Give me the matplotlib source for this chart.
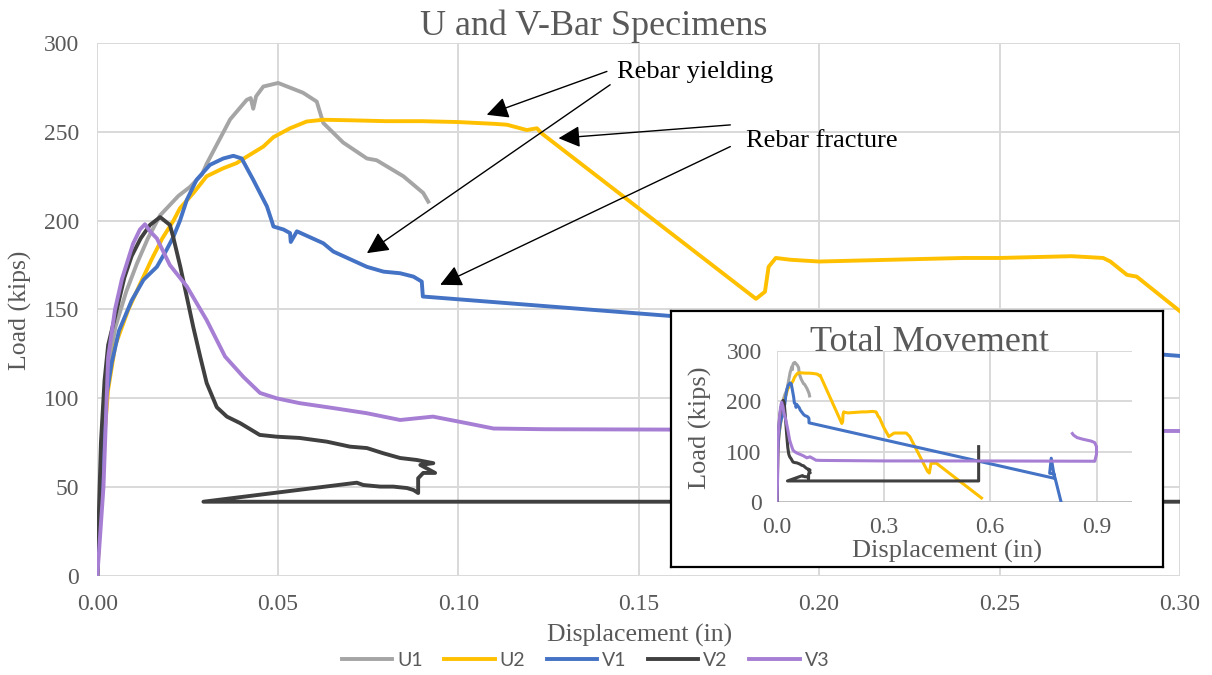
import matplotlib.pyplot as plt

# Series (displacement in inches, load in kips)
u1_x = [0, 0.001, 0.002, 0.003, 0.005, 0.008, 0.011, 0.014, 0.0174, 0.0225, 0.0257, 0.029, 0.0303,
        0.0368, 0.0414, 0.0425, 0.0432, 0.044, 0.046, 0.0501, 0.057, 0.0608, 0.0626, 0.0681,
        0.0747, 0.0774, 0.0848, 0.0903, 0.0917]
u1_y = [0, 55, 95, 118, 140, 160, 176, 190, 203, 214, 219, 226, 232,
        257, 268, 269, 263, 270, 275.5, 277.5, 272, 267, 255, 244,
        235, 234, 225, 215.6, 210.7]

u2_x = [0, 0.001, 0.002, 0.003, 0.005, 0.0086, 0.012, 0.015, 0.018, 0.0211, 0.0229, 0.0266, 0.0303,
        0.0349, 0.0386, 0.0414, 0.046, 0.0488, 0.0534, 0.058, 0.0626, 0.07, 0.08, 0.09, 0.10,
        0.11, 0.1135, 0.119, 0.1218, 0.1232, 0.1825, 0.185, 0.186, 0.188, 0.192, 0.20, 0.21,
        0.22, 0.23, 0.24, 0.25, 0.26, 0.27, 0.2787, 0.2807, 0.2853, 0.288, 0.30, 0.315, 0.33,
        0.364, 0.374, 0.424, 0.429, 0.434, 0.449, 0.576]
u2_y = [0, 45, 80, 105, 130, 150, 165, 178, 190, 200, 207, 215.5, 225,
        229.5, 232.4, 236, 241.7, 247, 252, 255.8, 256.8, 256.5, 256, 256, 255.5,
        254.5, 254, 251, 252, 249, 156, 160, 174, 179, 178, 177, 177.5,
        178, 178.5, 179, 179, 179.5, 180, 179, 177, 169.5, 168.5, 149, 130, 137,
        137, 130, 61, 57.5, 77, 77, 8]

v1_x = [0, 0.0005, 0.0012, 0.0024, 0.004, 0.006, 0.0095, 0.0128, 0.0165, 0.0192, 0.0211, 0.0229,
        0.0248, 0.0275, 0.0312, 0.0349, 0.0377, 0.040, 0.0432, 0.047, 0.0483, 0.0488, 0.0516,
        0.0534, 0.0536, 0.0553, 0.0626, 0.0654, 0.0747, 0.0793, 0.0839, 0.0876, 0.0899, 0.0902,
        0.782, 0.7725, 0.768, 0.78, 0.786, 0.80]
v1_y = [0, 30, 50, 100, 120, 138, 155, 166.7, 174, 183.6, 191, 200,
        211.7, 223, 231.4, 235, 236.5, 235, 223, 208, 200, 196.7, 195,
        193, 188, 194, 187.3, 182.6, 174, 171.3, 170.4, 168.5, 165.7, 157.3,
        47, 87, 57, 56, 40, 0.5]

v2_x = [0, 0.0005, 0.001, 0.002, 0.003, 0.0054, 0.0075, 0.0095, 0.012, 0.0146, 0.0174, 0.0201,
        0.021, 0.023, 0.0248, 0.0266, 0.0285, 0.0303, 0.0331, 0.0359, 0.0396, 0.045, 0.0497,
        0.056, 0.0636, 0.070, 0.0747, 0.0792, 0.0839, 0.0885, 0.0931, 0.0895, 0.0936, 0.0903,
        0.0889, 0.0889, 0.0876, 0.0858, 0.082, 0.0784, 0.0737, 0.0719, 0.0294, 0.568, 0.568]
v2_y = [0, 40, 75, 110, 130, 150, 168, 180, 190, 197.6, 202, 197.6,
        191, 174, 157, 140, 123.5, 108.6, 95, 89.7, 86, 79.4, 78.4,
        77.7, 75.6, 72.8, 72, 69.1, 66.4, 65.3, 63.5, 62.5, 58, 58,
        55, 46.7, 48.4, 49.5, 50.3, 50.3, 51.2, 52.5, 41.8, 41.8, 110]

v3_x = [0, 0.0017, 0.003, 0.0049, 0.0068, 0.0099, 0.0118, 0.0132, 0.0146, 0.0165, 0.0201, 0.0248,
        0.0303, 0.0354, 0.0405, 0.0451, 0.0497, 0.056, 0.0654, 0.0747, 0.0839, 0.093, 0.1024,
        0.1098, 0.124, 0.30, 0.60, 0.895, 0.90, 0.90, 0.895, 0.885, 0.86, 0.845, 0.835, 0.832]
v3_y = [0, 50, 123, 150, 167, 187, 195, 198, 194, 190, 175, 163,
        144, 123.5, 112, 103, 100, 97.3, 94.5, 91.6, 87.8, 89.7, 86,
        83, 82.6, 81.6, 81.5, 81, 95, 110, 118, 121, 125, 128, 133, 136]

names = ["U1", "U2", "V1", "V2", "V3"]
colors = ["#a5a5a5", "#ffc000", "#4472c4", "#404040", "#a67ed4"]
xs = [u1_x, u2_x, v1_x, v2_x, v3_x]
ys = [u1_y, u2_y, v1_y, v2_y, v3_y]

serif = "Liberation Serif"
grey_txt = "#595959"
grid_c = "#d9d9d9"

fig = plt.figure(figsize=(12.12, 6.75), dpi=100)

# Main chart
ax = fig.add_axes([0.0803, 0.1467, 0.8933, 0.7896])
for x, y, c, n in zip(xs, ys, colors, names):
    ax.plot(x, y, color=c, lw=2.8, label=n, solid_joinstyle="round")
ax.set_xlim(0, 0.30)
ax.set_ylim(0, 300)
ax.set_xticks([0, 0.05, 0.10, 0.15, 0.20, 0.25, 0.30])
ax.set_xticklabels(["0.00", "0.05", "0.10", "0.15", "0.20", "0.25", "0.30"])
ax.set_yticks([0, 50, 100, 150, 200, 250, 300])
ax.grid(True, color=grid_c, lw=1.4)
ax.set_axisbelow(True)
for s in ax.spines.values():
    s.set_visible(False)
ax.tick_params(length=0, labelsize=17, labelcolor=grey_txt, pad=13)
for lab in ax.get_xticklabels() + ax.get_yticklabels():
    lab.set_fontfamily(serif)

fig.text(0.49, 0.961, "U and V-Bar Specimens", ha="center", va="center",
         fontsize=26, color=grey_txt, family=serif)
fig.text(0.528, 0.058, "Displacement (in)", ha="center", va="center",
         fontsize=18.5, color=grey_txt, family=serif)
fig.text(0.0165, 0.541, "Load (kips)", ha="center", va="center", rotation=90,
         fontsize=18.5, color=grey_txt, family=serif)

# Annotations
arrow = dict(arrowstyle="-|>,head_length=0.6,head_width=0.3", color="black",
             lw=1, mutation_scale=22, shrinkA=0, shrinkB=0)
ax.annotate("", xy=(0.1079, 259.6), xytext=(0.1412, 284), arrowprops=arrow)
ax.annotate("", xy=(0.0747, 181.7), xytext=(0.1421, 276.5), arrowprops=arrow)
ax.annotate("", xy=(0.1278, 246.4), xytext=(0.1754, 253.9), arrowprops=arrow)
ax.annotate("", xy=(0.095, 163.9), xytext=(0.1754, 241.7), arrowprops=arrow)
ax.text(0.1440, 283.8, "Rebar yielding", fontsize=19, family=serif, va="center")
ax.text(0.1798, 245, "Rebar fracture", fontsize=19, family=serif, va="center")

# Legend
fig.legend(loc="center", bbox_to_anchor=(0.483, 0.022), ncol=5, frameon=False,
           prop={"family": "Lato", "size": 14}, handlelength=2.6, handletextpad=0.25,
           columnspacing=1.1, labelcolor=grey_txt)

# Inset frame
box = fig.add_axes([0.5536, 0.16, 0.406, 0.3793], zorder=5)
box.set_xticks([])
box.set_yticks([])
box.set_facecolor("white")
for s in box.spines.values():
    s.set_color("black")
    s.set_linewidth(1.6)

# Inset chart
ins = fig.add_axes([0.6411, 0.2563, 0.2929, 0.2237], zorder=6)
ins.set_facecolor("none")
for x, y, c in zip(xs, ys, colors):
    ins.plot(x, y, color=c, lw=2.2, solid_joinstyle="round")
ins.set_xlim(0, 1.0)
ins.set_ylim(0, 300)
ins.set_xticks([0, 0.3, 0.6, 0.9])
ins.set_xticklabels(["0.0", "0.3", "0.6", "0.9"])
ins.set_yticks([0, 100, 200, 300])
ins.grid(True, color=grid_c, lw=1.4)
ins.set_axisbelow(True)
for s in ins.spines.values():
    s.set_visible(False)
ins.axhline(0, color="#bfbfbf", lw=1.4, zorder=1)
ins.tick_params(length=0, labelsize=17, labelcolor=grey_txt, pad=11)
for lab in ins.get_xticklabels() + ins.get_yticklabels():
    lab.set_fontfamily(serif)

fig.text(0.767, 0.492, "Total Movement", ha="center", va="center",
         fontsize=26, color=grey_txt, family=serif, zorder=7)
fig.text(0.781, 0.183, "Displacement (in)", ha="center", va="center",
         fontsize=19, color=grey_txt, family=serif, zorder=7)
fig.text(0.5776, 0.367, "Load (kips)", ha="center", va="center", rotation=90,
         fontsize=19, color=grey_txt, family=serif, zorder=7)

fig.savefig("out.png", dpi=100)
